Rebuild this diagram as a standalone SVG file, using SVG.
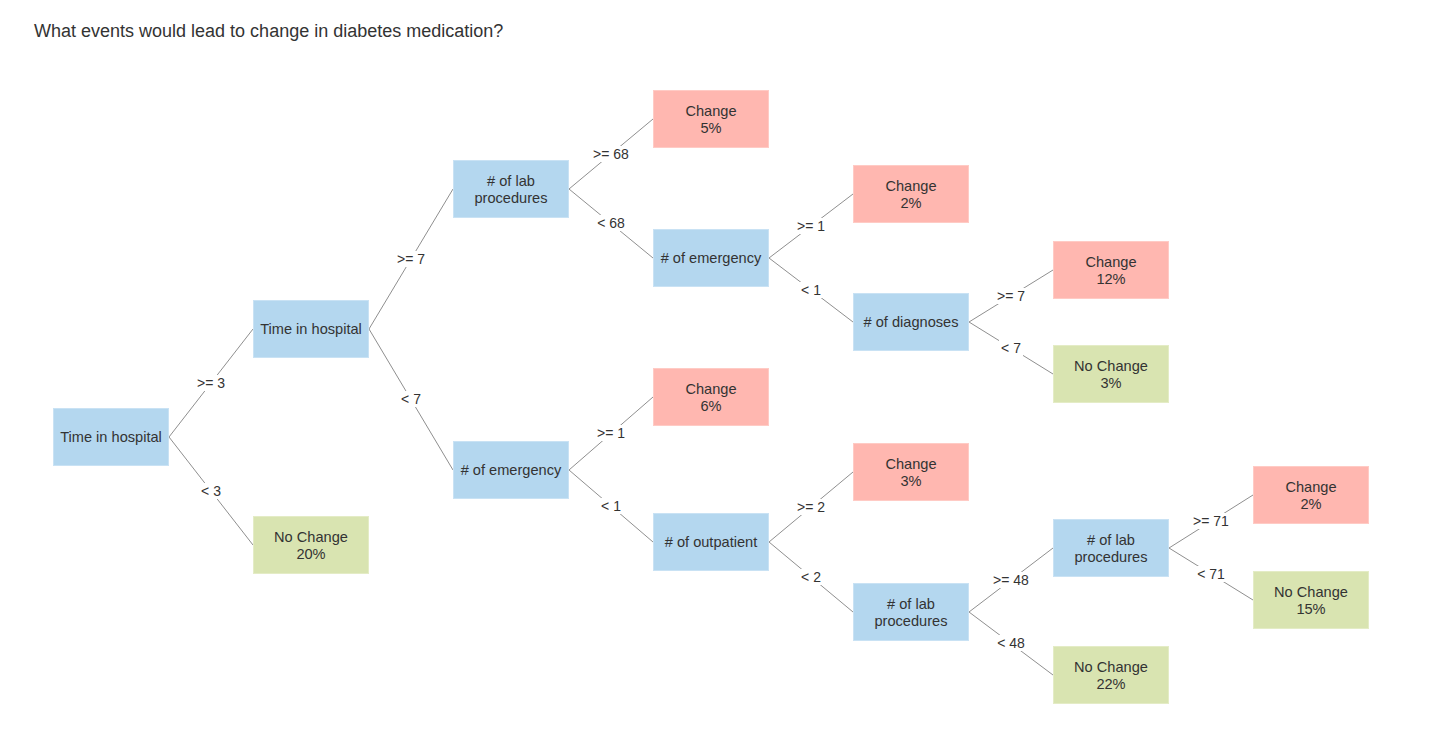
<svg xmlns="http://www.w3.org/2000/svg" width="1434" height="736" viewBox="0 0 1434 736">
<style>
text{font-family:"Liberation Sans",Arial,sans-serif;fill:#333}
.title{font-size:18px}
.n rect{stroke-width:1}
.q rect{fill:#b4d7ef;stroke:#c9e2f4}
.c rect{fill:#ffb7b0;stroke:#ffcbc5}
.g rect{fill:#d9e4b1;stroke:#e4ecc6}
.n text{font-size:14.6px;text-anchor:middle}
#connectors line{stroke:#8f8f8f;stroke-width:1}
#connectors rect{fill:#fff}
#connectors text{font-size:14px;text-anchor:middle}
</style>
<rect width="1434" height="736" fill="#fff"/>
<text class="title" x="34" y="37">What events would lead to change in diabetes medication?</text>
<g id="connectors">
<line x1="169" y1="437" x2="253" y2="329"/>
<line x1="169" y1="437" x2="253" y2="545"/>
<line x1="369" y1="329" x2="453" y2="189"/>
<line x1="369" y1="329" x2="453" y2="470"/>
<line x1="569" y1="189" x2="653" y2="119"/>
<line x1="569" y1="189" x2="653" y2="258"/>
<line x1="769" y1="258" x2="853" y2="194"/>
<line x1="769" y1="258" x2="853" y2="322"/>
<line x1="969" y1="322" x2="1053" y2="270"/>
<line x1="969" y1="322" x2="1053" y2="374"/>
<line x1="569" y1="470" x2="653" y2="397"/>
<line x1="569" y1="470" x2="653" y2="542"/>
<line x1="769" y1="542" x2="853" y2="472"/>
<line x1="769" y1="542" x2="853" y2="612"/>
<line x1="969" y1="612" x2="1053" y2="548"/>
<line x1="969" y1="612" x2="1053" y2="675"/>
<line x1="1169" y1="548" x2="1253" y2="495"/>
<line x1="1169" y1="548" x2="1253" y2="600"/>
<rect x="195" y="375" width="32" height="16"/><text x="211" y="388">&gt;= 3</text>
<rect x="199" y="483" width="24" height="16"/><text x="211" y="496">&lt; 3</text>
<rect x="395" y="251" width="32" height="16"/><text x="411" y="264">&gt;= 7</text>
<rect x="399" y="391" width="24" height="16"/><text x="411" y="404">&lt; 7</text>
<rect x="591" y="146" width="40" height="16"/><text x="611" y="159">&gt;= 68</text>
<rect x="595" y="215" width="32" height="16"/><text x="611" y="228">&lt; 68</text>
<rect x="795" y="218" width="32" height="16"/><text x="811" y="231">&gt;= 1</text>
<rect x="799" y="282" width="24" height="16"/><text x="811" y="295">&lt; 1</text>
<rect x="995" y="288" width="32" height="16"/><text x="1011" y="301">&gt;= 7</text>
<rect x="999" y="340" width="24" height="16"/><text x="1011" y="353">&lt; 7</text>
<rect x="595" y="425" width="32" height="16"/><text x="611" y="438">&gt;= 1</text>
<rect x="599" y="498" width="24" height="16"/><text x="611" y="511">&lt; 1</text>
<rect x="795" y="499" width="32" height="16"/><text x="811" y="512">&gt;= 2</text>
<rect x="799" y="569" width="24" height="16"/><text x="811" y="582">&lt; 2</text>
<rect x="991" y="572" width="40" height="16"/><text x="1011" y="585">&gt;= 48</text>
<rect x="995" y="635" width="32" height="16"/><text x="1011" y="648">&lt; 48</text>
<rect x="1191" y="513" width="40" height="16"/><text x="1211" y="526">&gt;= 71</text>
<rect x="1195" y="566" width="32" height="16"/><text x="1211" y="579">&lt; 71</text>
</g>
<g id="n-root" class="n q"><rect x="53.5" y="408.5" width="115" height="57"/><text x="111" y="442">Time in hospital</text></g>
<g id="n-tih2" class="n q"><rect x="253.5" y="300.5" width="115" height="57"/><text x="311" y="334">Time in hospital</text></g>
<g id="n-nc20" class="n g"><rect x="253.5" y="516.5" width="115" height="57"/><text x="311" y="542">No Change</text><text x="311" y="559">20%</text></g>
<g id="n-lab1" class="n q"><rect x="453.5" y="160.5" width="115" height="57"/><text x="511" y="186"># of lab</text><text x="511" y="203">procedures</text></g>
<g id="n-emerg1" class="n q"><rect x="453.5" y="441.5" width="115" height="57"/><text x="511" y="475"># of emergency</text></g>
<g id="n-c5" class="n c"><rect x="653.5" y="90.5" width="115" height="57"/><text x="711" y="116">Change</text><text x="711" y="133">5%</text></g>
<g id="n-emerg2" class="n q"><rect x="653.5" y="229.5" width="115" height="57"/><text x="711" y="263"># of emergency</text></g>
<g id="n-c6" class="n c"><rect x="653.5" y="368.5" width="115" height="57"/><text x="711" y="394">Change</text><text x="711" y="411">6%</text></g>
<g id="n-outp" class="n q"><rect x="653.5" y="513.5" width="115" height="57"/><text x="711" y="547"># of outpatient</text></g>
<g id="n-c2a" class="n c"><rect x="853.5" y="165.5" width="115" height="57"/><text x="911" y="191">Change</text><text x="911" y="208">2%</text></g>
<g id="n-diag" class="n q"><rect x="853.5" y="293.5" width="115" height="57"/><text x="911" y="327"># of diagnoses</text></g>
<g id="n-c3" class="n c"><rect x="853.5" y="443.5" width="115" height="57"/><text x="911" y="469">Change</text><text x="911" y="486">3%</text></g>
<g id="n-lab3" class="n q"><rect x="853.5" y="583.5" width="115" height="57"/><text x="911" y="609"># of lab</text><text x="911" y="626">procedures</text></g>
<g id="n-c12" class="n c"><rect x="1053.5" y="241.5" width="115" height="57"/><text x="1111" y="267">Change</text><text x="1111" y="284">12%</text></g>
<g id="n-nc3" class="n g"><rect x="1053.5" y="345.5" width="115" height="57"/><text x="1111" y="371">No Change</text><text x="1111" y="388">3%</text></g>
<g id="n-lab4" class="n q"><rect x="1053.5" y="519.5" width="115" height="57"/><text x="1111" y="545"># of lab</text><text x="1111" y="562">procedures</text></g>
<g id="n-nc22" class="n g"><rect x="1053.5" y="646.5" width="115" height="57"/><text x="1111" y="672">No Change</text><text x="1111" y="689">22%</text></g>
<g id="n-c2b" class="n c"><rect x="1253.5" y="466.5" width="115" height="57"/><text x="1311" y="492">Change</text><text x="1311" y="509">2%</text></g>
<g id="n-nc15" class="n g"><rect x="1253.5" y="571.5" width="115" height="57"/><text x="1311" y="597">No Change</text><text x="1311" y="614">15%</text></g>
</svg>
